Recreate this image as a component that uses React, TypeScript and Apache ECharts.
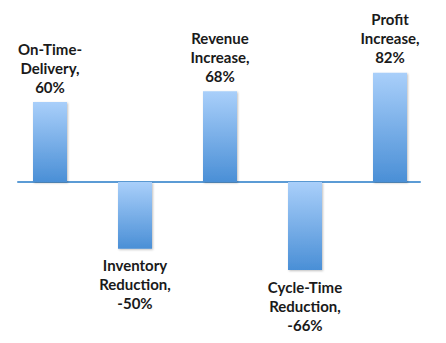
import React, { useEffect, useRef } from "react";
import * as echarts from "echarts";

const categories = [
  "On-Time-\nDelivery,",
  "Inventory\nReduction,",
  "Revenue\nIncrease,",
  "Cycle-Time\nReduction,",
  "Profit\nIncrease,",
];
const values = [60, -50, 68, -66, 82];

export default function App() {
  const ref = useRef<HTMLDivElement>(null);
  useEffect(() => {
    if (!ref.current) return;
    const chart = echarts.init(ref.current, null, { renderer: "svg" });
    const grad = new echarts.graphic.LinearGradient(0, 0, 0, 1, [
      { offset: 0, color: "#a9cffa" },
      { offset: 1, color: "#4a8fd6" },
    ]);
    chart.setOption({
      animation: false,
      grid: [
        { left: 7.5, width: 425, top: 48.67, height: 266.67 },
        { left: 18, width: 402, top: 48.67, height: 266.67 },
      ],
      xAxis: [
        {
          type: "category",
          gridIndex: 0,
          data: categories,
          axisLine: { show: false },
          axisTick: { show: false },
          axisLabel: { show: false },
        },
        {
          type: "value",
          gridIndex: 1,
          min: 0,
          max: 1,
          axisLine: { show: true, onZero: true, lineStyle: { color: "#5b9bd5", width: 2 } },
          axisTick: { show: false },
          axisLabel: { show: false },
          splitLine: { show: false },
        },
      ],
      yAxis: [
        { type: "value", gridIndex: 0, min: -100, max: 100, show: false },
        { type: "value", gridIndex: 1, min: -100, max: 100, show: false },
      ],
      series: [
        {
          type: "bar",
          xAxisIndex: 0,
          yAxisIndex: 0,
          barWidth: "40%",
          z: 3,
          data: values.map((v, i) => ({
            value: v,
            label: {
              show: true,
              position: v >= 0 ? "top" : "bottom",
              distance: v >= 0 ? 6 : 7,
              formatter: () => categories[i] + "\n" + v + "%",
            },
          })),
          itemStyle: {
            color: grad,
            shadowColor: "rgba(0,0,0,0.25)",
            shadowBlur: 2,
            shadowOffsetX: 1,
            shadowOffsetY: 1,
          },
          label: {
            fontFamily: "Lato",
            fontWeight: "bold",
            fontSize: 15,
            lineHeight: 19,
            color: "#1a1a1a",
            align: "center",
          },
        },
      ],
    });
    return () => chart.dispose();
  }, []);
  return <div ref={ref} style={{ width: 446, height: 343, position: "absolute", left: 0, top: 0 }} />;
}
